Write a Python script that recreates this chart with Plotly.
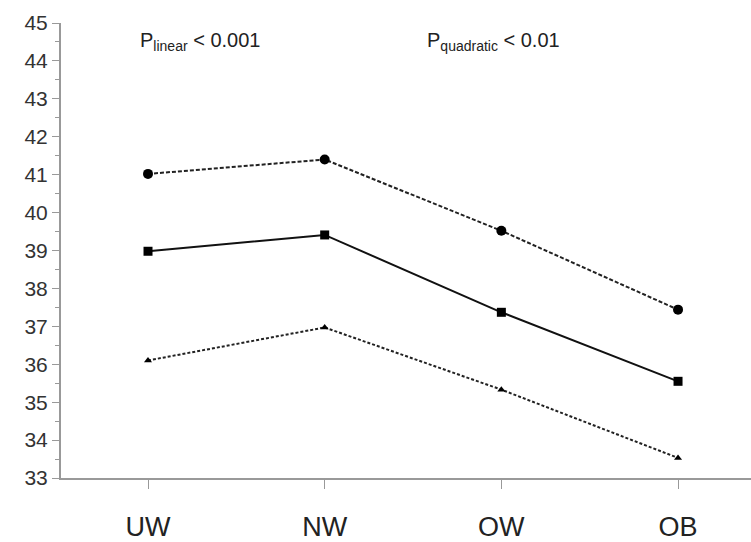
import plotly.graph_objects as go

categories = ["UW", "NW", "OW", "OB"]
upper_values = [41.02, 41.40, 39.52, 37.44]
mean_values = [38.98, 39.41, 37.37, 35.55]
lower_values = [36.10, 36.97, 35.33, 33.53]
y_tick_values = list(range(33, 46))

fig = go.Figure()
fig.add_trace(go.Scatter(
    x=categories, y=upper_values, mode="lines+markers",
    line=dict(color="#222222", width=2, dash="4px,2px"),
    marker=dict(symbol="circle", size=10, color="black"),
    showlegend=False))
fig.add_trace(go.Scatter(
    x=categories, y=mean_values, mode="lines+markers",
    line=dict(color="#111111", width=2),
    marker=dict(symbol="square", size=9, color="black"),
    showlegend=False))
fig.add_trace(go.Scatter(
    x=categories, y=lower_values, mode="lines+markers",
    line=dict(color="#222222", width=2, dash="3px,2px"),
    marker=dict(symbol="triangle-up", size=7, color="black"),
    showlegend=False))

fig.add_annotation(x=0.294, y=44.5, xref="x", yref="y",
                   text="P<sub>linear</sub> < 0.001", showarrow=False,
                   font=dict(family="Liberation Sans, Arial", size=20, color="#222222"))
fig.add_annotation(x=1.958, y=44.5, xref="x", yref="y",
                   text="P<sub>quadratic</sub> < 0.01", showarrow=False,
                   font=dict(family="Liberation Sans, Arial", size=20, color="#222222"))

fig.update_layout(
    width=751, height=542,
    margin=dict(l=61, r=0, t=23, b=59),
    plot_bgcolor="white", paper_bgcolor="white",
    xaxis=dict(
        type="category", range=[-0.4925, 3.413],
        showline=True, linecolor="#999999", linewidth=2,
        ticks="outside", ticklen=9, tickcolor="#999999", tickwidth=1,
        showgrid=False, zeroline=False,
        tickfont=dict(family="Liberation Sans Narrow, Arial Narrow, Liberation Sans", size=27, color="#222222"),
        ticklabelstandoff=15,
    ),
    yaxis=dict(
        range=[33, 45], tickvals=y_tick_values,
        showline=True, linecolor="#999999", linewidth=2,
        ticks="outside", ticklen=7, tickcolor="#999999", tickwidth=1,
        minor=dict(dtick=0.5, ticks="outside", ticklen=4, tickcolor="#999999", tickwidth=1),
        showgrid=False, zeroline=False,
        tickfont=dict(family="Liberation Sans, Arial", size=21, color="#333333"),
    ),
)

fig.write_html("out.html", config={"displayModeBar": False},
               post_script="document.body.style.margin='0';document.body.style.overflow='hidden';")
